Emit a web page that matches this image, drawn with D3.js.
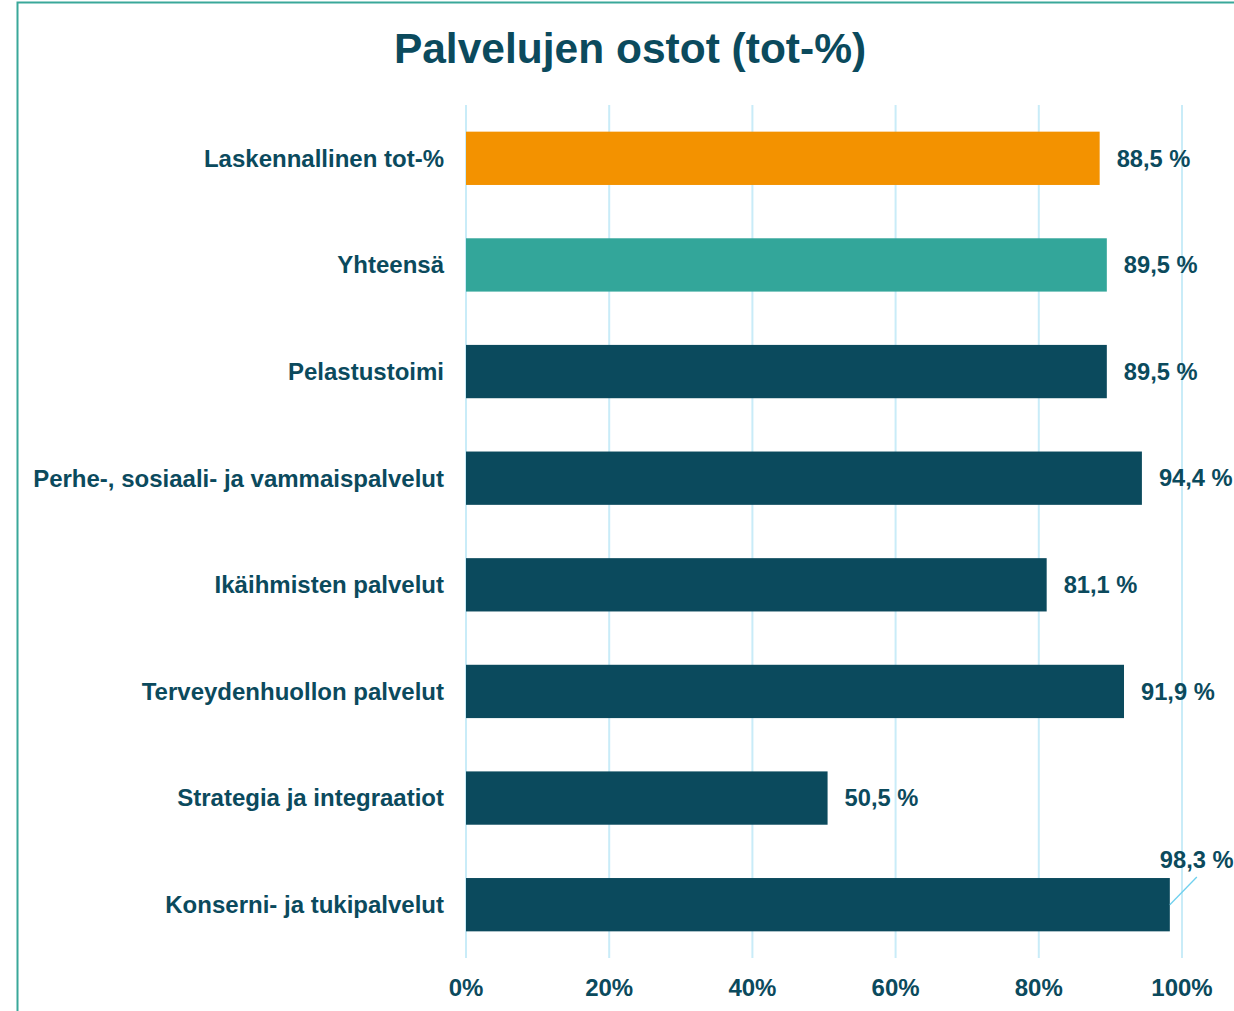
<!DOCTYPE html>
<html><head><meta charset="utf-8">
<script src="https://cdn.jsdelivr.net/npm/d3@7"></script>
<style>body{margin:0;background:#fff;} svg{display:block;}</style>
</head><body>
<script>
const categories = ["Laskennallinen tot-%","Yhteensä","Pelastustoimi","Perhe-, sosiaali- ja vammaispalvelut","Ikäihmisten palvelut","Terveydenhuollon palvelut","Strategia ja integraatiot","Konserni- ja tukipalvelut"];
const values = [88.5, 89.5, 89.5, 94.4, 81.1, 91.9, 50.5, 98.3];
const valueLabels = ["88,5 %","89,5 %","89,5 %","94,4 %","81,1 %","91,9 %","50,5 %","98,3 %"];
const barColors = ["#f39200","#33a69a","#0b4a5d","#0b4a5d","#0b4a5d","#0b4a5d","#0b4a5d","#0b4a5d"];
const ticks = [0,20,40,60,80,100];
const title = "Palvelujen ostot (tot-%)";

const W=1234,H=1011;
const txt="#0b4a5d";
const svg=d3.select("body").append("svg").attr("width",W).attr("height",H)
  .style("font-family","'Liberation Sans', Arial, sans-serif");

// frame
svg.append("path").attr("d",`M17.5,${H} L17.5,2.5 L${W},2.5`).attr("fill","none").attr("stroke","#3aa89a").attr("stroke-width",2);

svg.append("text").attr("x",630).attr("y",63).attr("text-anchor","middle")
  .attr("font-size",42.5).attr("font-weight","bold").attr("fill",txt).text(title);

const x=d3.scaleLinear().domain([0,100]).range([466,1182]);
const y=d3.scaleBand().domain(categories).range([105,958]).paddingInner(0.5).paddingOuter(0.25);

// gridlines
svg.append("g").selectAll("line").data(ticks).join("line")
  .attr("x1",d=>x(d)).attr("x2",d=>x(d)).attr("y1",105).attr("y2",958)
  .attr("stroke","#c9ecf8").attr("stroke-width",2);

// bars
svg.append("g").selectAll("rect").data(categories).join("rect")
  .attr("x",x(0)).attr("y",d=>y(d)).attr("width",(d,i)=>x(values[i])-x(0)).attr("height",y.bandwidth())
  .attr("fill",(d,i)=>barColors[i]);

// category labels
svg.append("g").selectAll("text").data(categories).join("text")
  .attr("x",444).attr("y",d=>y(d)+y.bandwidth()/2).attr("dy","0.35em").attr("text-anchor","end")
  .attr("font-size",24).attr("font-weight","bold").attr("fill",txt).text(d=>d);

// value labels
const last=categories.length-1;
svg.append("g").selectAll("text").data(categories).join("text")
  .attr("x",(d,i)=> i===last ? x(values[i])-10 : x(values[i])+17)
  .attr("y",(d,i)=> i===last ? y(d)-18 : y(d)+y.bandwidth()/2)
  .attr("dy","0.35em")
  .attr("font-size",23.7).attr("font-weight","bold").attr("fill",txt).text((d,i)=>valueLabels[i]);

// leader line for last
const lc=categories[last];
svg.append("line").attr("x1",x(values[last])).attr("y1",y(lc)+y.bandwidth()/2)
  .attr("x2",x(values[last])+27).attr("y2",y(lc)-1)
  .attr("stroke","#6fd0ee").attr("stroke-width",1.3);

// axis ticks
svg.append("g").selectAll("text").data(ticks).join("text")
  .attr("x",d=>x(d)).attr("y",988).attr("dy","0.35em").attr("text-anchor","middle")
  .attr("font-size",24).attr("font-weight","bold").attr("fill",txt).text(d=>d+"%");
</script>
</body></html>
